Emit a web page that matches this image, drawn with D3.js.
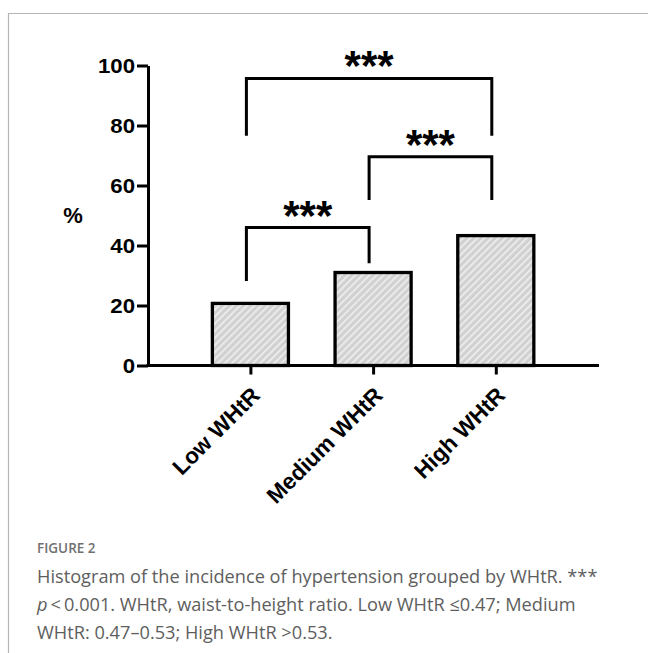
<!DOCTYPE html>
<html>
<head>
<meta charset="utf-8">
<script src="https://cdn.jsdelivr.net/npm/d3@7"></script>
<style>
  html, body { margin: 0; padding: 0; background: #fff; }
  svg { display: block; }
</style>
</head>
<body>
<svg id="chart" width="648" height="653"></svg>
<script>
// ---- data ----
const categories = ["Low WHtR", "Medium WHtR", "High WHtR"];
const values = [20.7, 31.0, 43.3];
const yTicks = [0, 20, 40, 60, 80, 100];
const yLabel = "%";
const brackets = [
  { from: "Low WHtR", to: "Medium WHtR", top: 46.0, leftEnd: 28.2, rightEnd: 34.1, label: "***" },
  { from: "Medium WHtR", to: "High WHtR", top: 69.6, leftEnd: 55.2, rightEnd: 55.2, label: "***" },
  { from: "Low WHtR", to: "High WHtR", top: 95.7, leftEnd: 76.6, rightEnd: 76.6, label: "***" }
];
const figureLabel = "FIGURE 2";
const captionLines = [
  [{ t: "Histogram of the incidence of hypertension grouped by WHtR. ***" }],
  [{ t: "p", i: true }, { t: "\u2009<\u20090.001. WHtR, waist-to-height ratio. Low WHtR \u22640.47; Medium" }],
  [{ t: "WHtR: 0.47\u20130.53; High WHtR >0.53." }]
];

// ---- layout ----
const svg = d3.select("#chart");
const plotLeft = 148, plotRight = 599, plotTop = 65.5, plotBottom = 365.5;
const font = "'Liberation Sans', Arial, sans-serif";

// frame
svg.append("path")
  .attr("d", `M8.5,653 V13.5 H648`)
  .attr("fill", "none").attr("stroke", "#b5b5b5").attr("stroke-width", 1.2);

// hatch pattern
const defs = svg.append("defs");
const pat = defs.append("pattern")
  .attr("id", "hatch").attr("patternUnits", "userSpaceOnUse")
  .attr("width", 5).attr("height", 5)
  .attr("patternTransform", "rotate(45)");
pat.append("rect").attr("width", 5).attr("height", 5).attr("fill", "#d1d1d1");
pat.append("rect").attr("x", 0).attr("width", 1.6).attr("height", 5).attr("fill", "#f0f0f0");

const y = d3.scaleLinear().domain([0, 100]).range([plotBottom, plotTop]);
const x = d3.scalePoint().domain(categories).range([250.4, 495.8]);
const barW = x.step() * 0.62;

// bars
svg.append("g").selectAll("rect").data(categories).join("rect")
  .attr("x", d => x(d) - barW / 2)
  .attr("y", (d, i) => y(values[i]))
  .attr("width", barW)
  .attr("height", (d, i) => y(0) - y(values[i]))
  .attr("fill", "url(#hatch)")
  .attr("stroke", "#000").attr("stroke-width", 3.3);

// y axis
const yAxis = svg.append("g")
  .attr("transform", `translate(${plotLeft},0)`)
  .call(d3.axisLeft(y).tickValues(yTicks).tickSize(11).tickSizeOuter(0).tickPadding(0));
yAxis.select(".domain").attr("stroke-width", 3).attr("stroke", "#000");
yAxis.selectAll(".tick line").attr("stroke-width", 3).attr("stroke", "#000");
yAxis.selectAll(".tick text")
  .attr("x", null).attr("dy", null)
  .attr("transform", "translate(-13,7) scale(1.14,1)")
  .attr("font-family", font).attr("font-weight", "bold").attr("font-size", 19.5)
  .attr("fill", "#000").attr("text-anchor", "end");

// x axis
const xAxis = svg.append("g")
  .attr("transform", `translate(0,${plotBottom})`)
  .call(d3.axisBottom(x).tickSize(9).tickSizeOuter(0).tickPadding(0));
xAxis.select(".domain").remove();
xAxis.append("line").attr("x1", plotLeft - 1.5).attr("x2", plotRight)
  .attr("stroke", "#000").attr("stroke-width", 3);
xAxis.selectAll(".tick line").attr("stroke-width", 3).attr("stroke", "#000");
xAxis.selectAll(".tick text")
  .attr("y", null).attr("dy", null)
  .attr("transform", "translate(-1,20) rotate(-45) translate(0,16)")
  .attr("font-family", font).attr("font-weight", "bold").attr("font-size", 22.5)
  .attr("fill", "#000").attr("text-anchor", "end");

// y label
svg.append("text")
  .attr("x", 73).attr("y", y(50) + 7)
  .attr("text-anchor", "middle")
  .attr("font-family", font).attr("font-weight", "bold").attr("font-size", 22)
  .text(yLabel);

// brackets
const legOffset = -4;
const bg = svg.append("g");
brackets.forEach(b => {
  const x1 = x(b.from) + legOffset, x2 = x(b.to) + legOffset;
  bg.append("path")
    .attr("d", `M${x1},${y(b.leftEnd)} V${y(b.top)} H${x2} V${y(b.rightEnd)}`)
    .attr("fill", "none").attr("stroke", "#000").attr("stroke-width", 3)
    .attr("stroke-linejoin", "miter").attr("stroke-linecap", "butt");
  bg.append("text")
    .attr("x", (x1 + x2) / 2).attr("y", y(b.top) + 2)
    .attr("text-anchor", "middle")
    .attr("font-family", font).attr("font-weight", "bold").attr("font-size", 42)
    .text(b.label);
});

// caption
svg.append("text")
  .attr("x", 37).attr("y", 553)
  .attr("font-family", "'Open Sans', sans-serif").attr("font-weight", 600)
  .attr("font-size", 13.5).attr("fill", "#707070")
  .text(figureLabel);
const cap = svg.append("text")
  .attr("font-family", "'Open Sans', sans-serif")
  .attr("font-size", 18.2).attr("fill", "#5e5e5e");
captionLines.forEach((line, li) => {
  line.forEach((seg, si) => {
    const ts = cap.append("tspan").text(seg.t);
    if (si === 0) ts.attr("x", 37).attr("y", 583 + li * 28);
    if (seg.i) ts.attr("font-style", "italic");
  });
});
</script>
</body>
</html>
